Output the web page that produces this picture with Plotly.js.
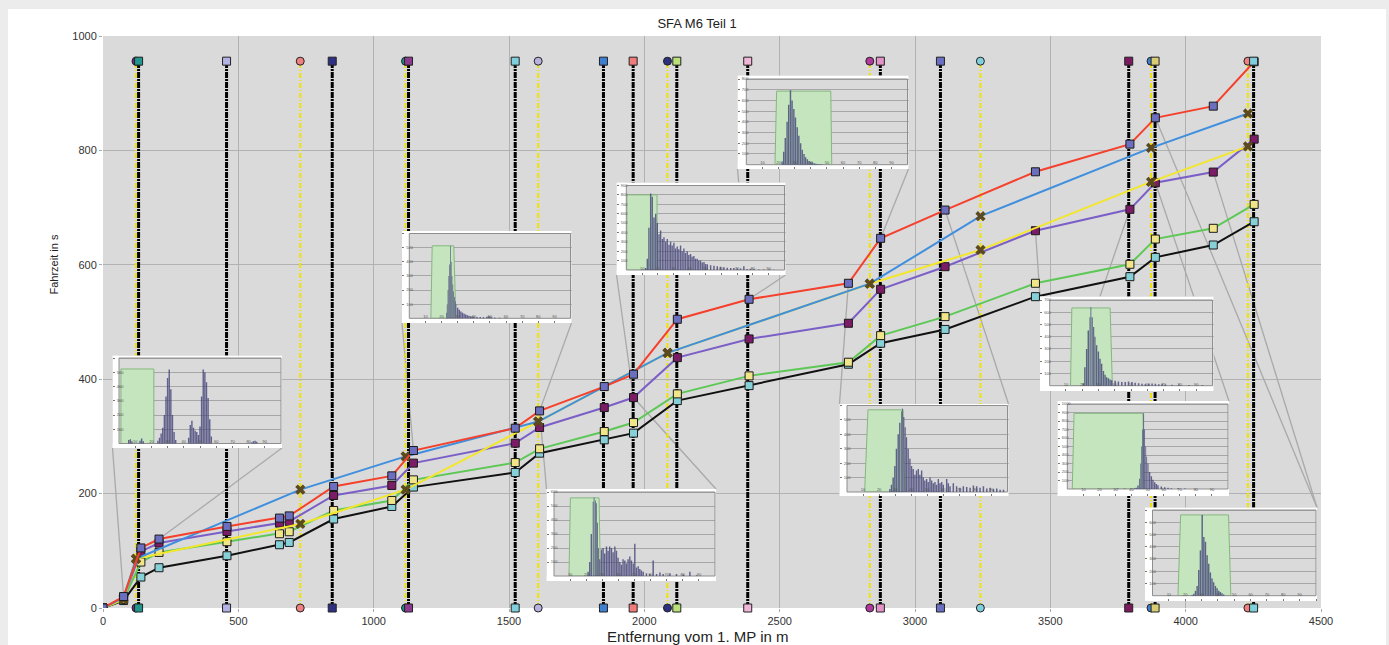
<!DOCTYPE html>
<html><head><meta charset="utf-8">
<script src="https://cdn.plot.ly/plotly-3.0.1.min.js"></script>
<style>
html,body{margin:0;padding:0;background:#ececec;width:1389px;height:645px;overflow:hidden;}
#chart{position:absolute;left:8px;top:9px;width:1378px;height:636px;background:#fff;}
</style></head><body><div id="chart"></div>
<script>
// ---------- main series (distance in m, travel time in s) ----------
const pointX  = [0, 76, 140, 207, 458, 652, 688, 852, 1067, 1147, 1523, 1613, 1852, 1960, 2122, 2387, 2754, 2873, 3111, 3445, 3794, 3888, 4102, 4253];
const redY    = [0, 20, 105, 120.5, 142.6, 157.2, 161, 212.4, 231, 275.3, 314.4, 344.6, 387.1, 408.7, 504.8, 539.7, 567.7, 646.3, 695.7, 762.6, 811, 857, 877.4, 955];
const purpleY = [0, 18, 99, 113.5, 133.8, 148.4, 151.3, 196.7, 214.2, 253.3, 288.2, 315.5, 350.4, 367.9, 437.7, 470.4, 497.8, 557.2, 596.7, 659.6, 697, 743.4, 762.1, 819.7];
const greenY  = [0, 15, 80.3, 97.2, 115.8, 129.8, 133.3, 170.5, 188, 224, 254.3, 278.3, 308.5, 324.2, 374.3, 405.8, 429.7, 476.2, 509.4, 567.7, 600.9, 645, 663.8, 705.6];
const blackY  = [0, 13, 54.1, 70.4, 91.4, 110.6, 114.6, 155.5, 177.5, 211.4, 236.9, 270.7, 294, 305.7, 362.6, 388.8, 426.2, 462.9, 487, 544.3, 579.2, 613, 634.6, 675.3];

const crossX  = [0, 76, 122, 729, 1118, 1608, 2086, 2833, 3242, 3872, 4230];
const blueY   = [0, 18, 86, 207, 265, 326, 446, 567, 685, 804.5, 864.6];
const yellowY = [0, 15, 86, 147, 207, 326, 446, 567, 626, 745, 807];

// ---------- measurement cross-sections (vertical lines) ----------
const sectionSquareX = [131.5, 456.5, 846.9, 1128.8, 1522.9, 1849, 1958.7, 2120, 2382, 2872, 3094, 3789.6, 3887, 4251];
const sectionSquareColor = ['#21968e','#b3b3e6','#2e3183','#8b3a8f','#7fd0dc','#3d7fd0','#f07b7b','#b9e07a','#f1b6d8','#e492c8','#6a6fc4','#7b1a5e','#d9cc72','#7fd0dc'];
const sectionCircleX = [121.9, 728.7, 1117.7, 1607.8, 2085.5, 2833, 3241.6, 3872, 4230];
const sectionCircleColor = ['#6f2a92','#f08080','#1d8f86','#b7b2e0','#2d2f7f','#b0399b','#7fd0dc','#3d7fd0','#f08080'];
const sectionTop = 956;

// ---------- inset histograms ----------
const histA_x = [6,7,8,13,14,15,24,25,26,27,28,29,30,31,32,33,34,35,43,44,45,46,47,48,49,50,51,52,53,54,55,56,57,82,83,84,85];
const histA_y = [25,30,15,20,35,15,20,40,70,110,200,330,460,520,380,200,80,25,40,130,160,110,90,80,60,120,330,520,500,430,320,170,50,8,15,20,12];
const greenA_x = [1.2,1.2,21.5,21.5]; const greenA_top = 523;

const histB_x = [23,23.5,24,24.5,25,25.5,26,26.5,27,27.5,28,28.5,29,30,31,32,33,34,35,36,37,38,39,40,42,44,46,48,49,50,51,53,56,60];
const histB_y = [40,100,200,300,380,513,400,300,240,190,150,120,100,75,60,48,40,32,27,22,18,15,13,12,10,9,8,10,15,14,8,5,4,3];
const greenB_x = [13.4,14.2,27.6,28.9]; const greenB_top = 513;

const histC_x = [12.2,13.3,14.3,15.4,16.4,17.5,18.6,19.6,20.7,21.7,22.8,23.8,24.9,25.9,27,28,29,30.1,31.1,32.2,33.2,34.3,35.3,36.4,37.4,38.5,39.5,40.6,41.6,42.7,43.7,44.8,45.8,46.9,48,49.1,50.1,51.2,53.3,55.4,57.5,59.6,61.7,63.8,66,68,70.1,72.2,74.3,76.4,78.5,80.6,83.8,87,90.1,93.3];
const histC_y = [20,120,450,814,780,560,600,500,380,420,330,350,300,330,270,300,260,290,230,250,220,260,200,230,180,200,160,170,140,150,120,120,100,100,80,85,65,60,50,45,40,35,28,25,22,20,18,15,40,10,12,8,6,5,4,3];
const greenC_x = [0.2,0.4,19.4,19.6]; const greenC_top = 800;

const histD_x = [22.2,23.2,24.2,25.3,26.3,27.4,28.4,29.5,30.5,31.6,32.6,33.7,34.7,35.8,36.8,37.9,38.9,40,41,42.1,43.1,44.2,45.2,46.3,47.3];
const histD_y = [30,120,250,400,560,694,600,520,440,350,270,200,140,100,70,50,35,25,20,14,10,7,5,4,3];
const greenD_x = [17.8,18.8,52.4,53.0]; const greenD_top = 687;

const histE_x = [21.2,22.2,23.2,24.3,24.9,25.7,26.3,27,27.6,28.4,29.5,30.5,31.5,32.6,33.6,34.6,35.7,36.7,37.8,38.8,39.8,40.9,41.9,42.9,44,45,46,47.1,48.1,49.2,50.2,51.2,52.3,53.3,54.3,55.4,57.4,59.5,61.6,63.7,65.8,67.8,72,76.1,80.3,84.4,88.6];
const histE_y = [30,100,300,530,560,540,520,380,200,120,190,200,160,210,180,210,200,170,210,180,130,100,80,120,110,90,120,140,110,90,230,60,70,50,40,30,20,15,110,15,25,15,20,15,10,30,5];
const greenE_x = [9.3,10.2,28.0,28.8]; const greenE_top = 558;

const histF_x = [26.7,27.7,28.75,29.8,30.8,31.9,32.9,34,34.6,35.4,36.25,37.1,38.1,39.2,40.2,41.25,42.3,43.3,44.4,45.4,46.5,47.5,48.5,49.6,50.6,51.7,52.7,53.75,54.8,55.8,56.9,57.9,59,60,62.1,63.1,64.2,66.25,68.3,70.4,72.5,74.6,76.7,78.75,80.8,82.9,85,87.1,89.2,91.25,93.3,95.4,97.5];
const histF_y = [20,50,100,180,300,400,480,560,580,520,450,380,300,230,180,160,120,150,160,120,150,100,80,90,70,100,80,60,70,50,90,60,70,50,90,60,40,60,40,30,40,35,30,45,40,30,40,25,30,20,25,15,15];
const greenF_x = [11.0,13.1,35.0,36.0]; const greenF_top = 570;

const histG_x = [20.6,21.6,22.7,23.7,24.7,25.3,26.1,27,27.8,28.8,29.9,30.9,31.9,33,34,35,36.1,37.1,38.1,40.2,42.2,44.3,46.4,48.4,50.5,52.5,54.6,56.7,58.7,60.8,62.9,64.9,67,69,71.1,75.2,79.3,85.5,93.8];
const histG_y = [20,150,300,450,560,640,560,480,400,330,280,220,180,120,90,70,60,50,45,40,35,30,30,35,30,25,20,15,12,15,18,15,12,15,10,8,8,5,5];
const greenG_x = [12.8,13.6,37.1,38.5]; const greenG_top = 635;

const histH_x = [31.5,35.7,39.8,41.9,42.9,44,45,45.7,46.3,46.9,47.5,48.1,48.8,49.4,50.2,51.2,52.3,53.3,54.4,55.4,56.4,58.5,60.6,62.7,64.7,68.9,73.1];
const histH_y = [5,5,5,8,15,40,120,300,500,700,890,700,500,380,300,200,150,110,80,60,45,30,20,15,10,8,5];
const greenH_x = [3.1,4.2,47.1,47.7]; const greenH_top = 890;

const histI_x = [24.3,25.3,26.3,27.3,28.3,29.3,30.4,31.4,32.4,33.4,34.4,35.4,36.4,37.4,38.5,39.5,40.5,41.5,42.5,43.5];
const histI_y = [5,15,40,80,210,370,660,480,440,330,260,190,140,110,80,60,40,30,20,10];
const greenI_x = [15.6,17.2,46.5,47.9]; const greenI_top = 660;

// ---------- layout geometry (page pixels) ----------
const PL = 103, PR = 1321, PT = 36, PB = 608;
const insets = [
  {hx:histA_x, hy:histA_y, gx:greenA_x, gt:greenA_top, ymax:600, frame:[112.5,355.5,282,448], inner:[119,358,281,443.5]},
  {hx:histB_x, hy:histB_y, gx:greenB_x, gt:greenB_top, ymax:600, frame:[402,231,571.5,323], inner:[409.3,233.5,570.5,318.3]},
  {hx:histC_x, hy:histC_y, gx:greenC_x, gt:greenC_top, ymax:900, frame:[616.5,182.5,785.5,275], inner:[626.3,185.5,784.5,270]},
  {hx:histD_x, hy:histD_y, gx:greenD_x, gt:greenD_top, ymax:800, frame:[737.5,75.5,908.5,169], inner:[746.3,79,907.5,164.7]},
  {hx:histE_x, hy:histE_y, gx:greenE_x, gt:greenE_top, ymax:600, frame:[546.5,489,716,581], inner:[554,492,715,576]},
  {hx:histF_x, hy:histF_y, gx:greenF_x, gt:greenF_top, ymax:600, frame:[839.5,404,1008.5,496], inner:[847,405.5,1007.5,492]},
  {hx:histG_x, hy:histG_y, gx:greenG_x, gt:greenG_top, ymax:700, frame:[1040,296.5,1213.5,391], inner:[1049.7,300,1212.5,385.7]},
  {hx:histH_x, hy:histH_y, gx:greenH_x, gt:greenH_top, ymax:1000, frame:[1057.5,401,1229,496], inner:[1067.3,404,1228,489]},
  {hx:histI_x, hy:histI_y, gx:greenI_x, gt:greenI_top, ymax:700, frame:[1145,507.5,1317,601], inner:[1152.5,510,1316,595.7]}
];
// connectors: [distance, time, inset index, corner or page point]
const connectors = [
  [76,20,0,'bl'],[207,120.5,0,'br'],
  [1147,275.3,1,'bl'],[1613,344.6,1,'br'],
  [1960,367.9,2,'bl'],[2387,539.7,2,'br'],
  [2387,539.7,3,'bl'],[2873,646.3,3,'br'],
  [1613,344.6,4,'tl'],[1960,367.9,4,'tr'],
  [2754,567.7,5,'tl'],[3111,695.7,5,'tr'],
  [3445,659.6,6,'tl'],[3794,697,6,[1085,340]],
  [3888,743.4,7,'tr'],
  [3888,857,8,'tr'],[4102,762.1,8,'tr']
];

const FONT = 'Liberation Sans, Arial, Helvetica, sans-serif';
const toDX = px => (px - PL) / (PR - PL) * 4500;
const toDY = py => (PB - py) / (PB - PT) * 1000;
const toPX = px => (px - PL) / (PR - PL);
const toPY = py => (PB - py) / (PB - PT);

const traces = [];
// connectors
const cx = [], cy = [];
connectors.forEach(c => {
  const f = insets[c[2]].frame;
  let px, py;
  if (Array.isArray(c[3])) { px = c[3][0]; py = c[3][1]; }
  else { px = c[3][1] === 'l' ? f[0] : f[2]; py = c[3][0] === 't' ? f[1] : f[3]; }
  cx.push(c[0], toDX(px), null); cy.push(c[1], toDY(py), null);
});
traces.push({x:cx, y:cy, mode:'lines', line:{color:'#a9a9a9', width:1.3}, hoverinfo:'skip'});

// vertical section lines
function vlines(xs){ const x=[],y=[]; xs.forEach(v=>{x.push(v,v,null);y.push(0,sectionTop,null);}); return {x,y}; }
const vs = vlines(sectionSquareX), vc = vlines(sectionCircleX);
traces.push({x:vc.x, y:vc.y, mode:'lines', line:{color:'#f2e200', width:2, dash:'5px,2px,1px,2px'}, hoverinfo:'skip'});
traces.push({x:vs.x, y:vs.y, mode:'lines', line:{color:'#000', width:3, dash:'6px,1px,2px,1px'}, hoverinfo:'skip'});
function endMarkers(xs, cols, sym){
  return {x:xs.concat(xs), y:xs.map(()=>sectionTop).concat(xs.map(()=>0)), mode:'markers', cliponaxis:false,
    marker:{symbol:sym, size:8, color:cols.concat(cols), line:{color:'#222', width:1}}, hoverinfo:'skip'};
}

// series
const mk = (col) => ({symbol:'square', size:8, color:col, line:{color:'#1a1a1a', width:1}});
traces.push({x:pointX, y:blackY, mode:'lines+markers', line:{color:'#111', width:2}, marker:mk('#86d0d8')});
traces.push({x:pointX, y:greenY, mode:'lines+markers', line:{color:'#5ec857', width:2}, marker:mk('#f1e58a')});
traces.push({x:pointX, y:purpleY, mode:'lines+markers', line:{color:'#7b5fc7', width:2}, marker:mk('#7c1c66')});
traces.push({x:crossX, y:yellowY, mode:'lines+markers', line:{color:'#f4e62a', width:2}, marker:{symbol:'x', size:9, color:'#5b4a1f'}});
traces.push({x:crossX, y:blueY, mode:'lines+markers', line:{color:'#3f8fde', width:2}, marker:{symbol:'x', size:9, color:'#5b4a1f'}});
traces.push({x:pointX, y:redY, mode:'lines+markers', line:{color:'#f5402c', width:2}, marker:mk('#6c6fc0')});
traces.push(endMarkers(sectionCircleX, sectionCircleColor, 'circle'));
traces.push(endMarkers(sectionSquareX, sectionSquareColor, 'square'));

const layout = {
  width:1378, height:636, margin:{l:95, r:65, t:27, b:37},
  paper_bgcolor:'#ffffff', plot_bgcolor:'#dadada', showlegend:false, hovermode:false,
  font:{family:FONT, color:'#333'},
  title:{text:'SFA M6 Teil 1', x:0.5, xref:'container', y:1-14/636, yref:'container', yanchor:'middle', font:{family:FONT, size:13, color:'#222'}},
  xaxis:{range:[0,4500], dtick:500, tick0:0, showgrid:true, gridcolor:'#b1b1b1', gridwidth:1, zeroline:false, showline:false,
         ticks:'outside', ticklen:3, tickcolor:'#aaa', tickfont:{size:11, color:'#333'}, fixedrange:true},
  yaxis:{range:[0,1000], dtick:200, tick0:0, showgrid:true, gridcolor:'#b1b1b1', gridwidth:1, zeroline:false, showline:false,
         ticks:'outside', ticklen:3, tickcolor:'#aaa', tickfont:{size:11, color:'#333'}, fixedrange:true},
  annotations:[
    {text:'Fahrzeit in s', textangle:-90, xref:'paper', yref:'paper', x:toPX(53.5), y:toPY(265), xanchor:'center', yanchor:'middle', showarrow:false, font:{family:FONT, size:11, color:'#222'}},
    {text:'Entfernung vom 1. MP in m', xref:'paper', yref:'paper', x:toPX(697.5), y:toPY(636.5), xanchor:'center', yanchor:'middle', showarrow:false, font:{family:FONT, size:15, color:'#222'}}
  ],
  shapes:[]
};

insets.forEach((ins, k) => {
  const n = k + 2, xa = 'x' + n, ya = 'y' + n;
  const f = ins.frame, i = ins.inner;
  const sx = 100 / (i[2] - i[0]);
  const xr = [(f[0] - i[0]) * sx, 100 + (f[2] - i[2]) * sx];
  const sy = ins.ymax / (i[3] - i[1]);
  const yr = [-(f[3] - i[3]) * sy, ins.ymax + (i[1] - f[1]) * sy];
  layout['xaxis' + n] = {domain:[toPX(f[0]), toPX(f[2])], range:xr, anchor:ya, showgrid:false, zeroline:false, showline:false,
    ticks:'inside', ticklen:2, tickcolor:'#777', dtick:10, tick0:0, ticklabelposition:'inside', tickfont:{size:4, color:'#555'}, fixedrange:true};
  layout['yaxis' + n] = {domain:[toPY(f[3]), toPY(f[1])], range:yr, anchor:xa, showgrid:true, gridcolor:'#a6a6a6', gridwidth:1, zeroline:false, showline:false,
    ticks:'inside', ticklen:2, tickcolor:'#777', dtick:100, tick0:0, ticklabelposition:'inside', tickfont:{size:4, color:'#555'}, fixedrange:true};
  const W = (x0,x1,y0,y1) => ({type:'rect', xref:xa, yref:ya, x0, x1, y0, y1, fillcolor:'#ffffff', line:{width:0}, layer:'between'});
  // green target band (drawn through the inset axes, beneath the bars)
  const g = ins.gx;
  layout.shapes.push({type:'path', xref:xa, yref:ya, layer:'between', fillcolor:'#c4e5bd', line:{color:'#86b77f', width:1},
    path:'M' + g[0] + ',0 L' + g[1] + ',' + ins.gt + ' L' + g[2] + ',' + ins.gt + ' L' + g[3] + ',0 Z'});
  layout.shapes.push(W(xr[0], 0, yr[0], yr[1]), W(xr[0], xr[1], yr[0], 0), W(xr[0], xr[1], ins.ymax, yr[1]), W(100, xr[1], yr[0], yr[1]));
  layout.shapes.push({type:'rect', xref:xa, yref:ya, x0:0, x1:100, y0:0, y1:ins.ymax, line:{color:'#8e8e8e', width:1}, layer:'between'});
  // histogram bars
  const w = ins.hx.map((v, j) => {
    const a = j > 0 ? v - ins.hx[j-1] : Infinity, b = j < ins.hx.length - 1 ? ins.hx[j+1] - v : Infinity;
    return Math.min(a, b, 1.05) * 0.88;
  });
  traces.push({type:'bar', x:ins.hx, y:ins.hy, width:w, xaxis:xa, yaxis:ya, marker:{color:'rgba(70,70,122,0.82)', line:{width:0}}, hoverinfo:'skip'});
});

Plotly.newPlot('chart', traces, layout, {staticPlot:true, displayModeBar:false});
</script></body></html>
